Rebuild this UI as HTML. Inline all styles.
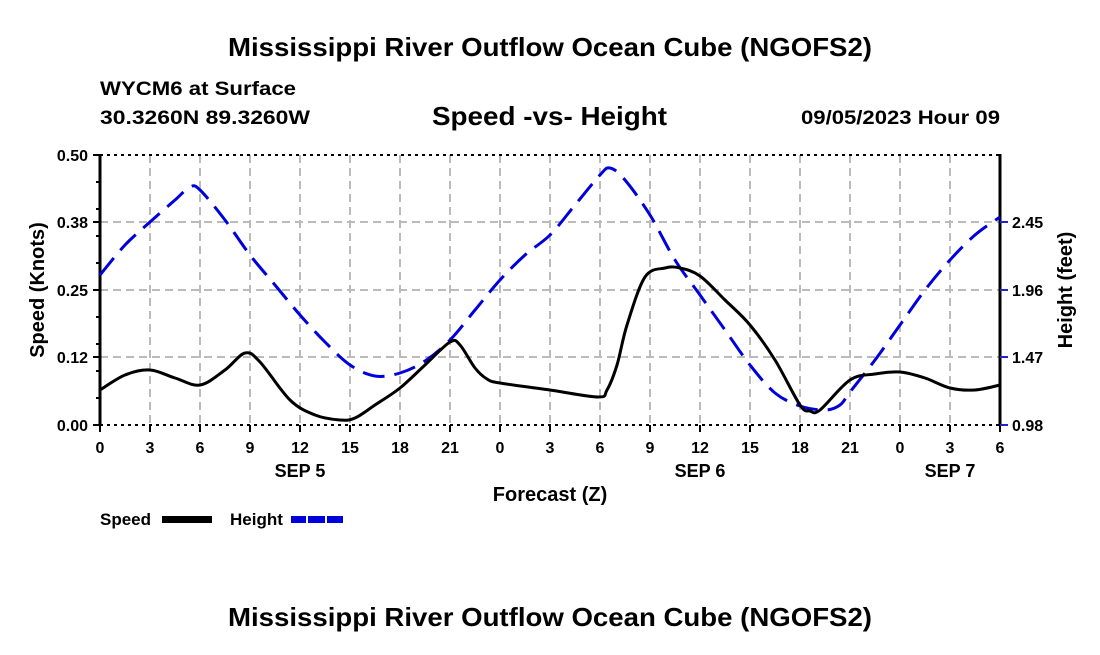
<!DOCTYPE html>
<html><head><style>
body{margin:0;background:#fff;width:1100px;height:650px;overflow:hidden}
text{font-family:"Liberation Sans",sans-serif;font-weight:bold;fill:#000}
</style></head><body>
<svg width="1100" height="650" viewBox="0 0 1100 650" xmlns="http://www.w3.org/2000/svg">
<text x="228" y="56" font-size="26" textLength="644" lengthAdjust="spacingAndGlyphs">Mississippi River Outflow Ocean Cube (NGOFS2)</text>
<text x="100" y="95" font-size="19" textLength="196" lengthAdjust="spacingAndGlyphs">WYCM6 at Surface</text>
<text x="100" y="124" font-size="19" textLength="210" lengthAdjust="spacingAndGlyphs">30.3260N  89.3260W</text>
<text x="432" y="125" font-size="26" textLength="235" lengthAdjust="spacingAndGlyphs">Speed -vs- Height</text>
<text x="801" y="124" font-size="19" textLength="199" lengthAdjust="spacingAndGlyphs">09/05/2023 Hour 09</text>
<g stroke="#bbb" stroke-width="2" stroke-dasharray="8,5">
<path d="M150 155V425M200 155V425M250 155V425M300 155V425M350 155V425M400 155V425M450 155V425M500 155V425M550 155V425M600 155V425M650 155V425M700 155V425M750 155V425M800 155V425M850 155V425M900 155V425M950 155V425"/>
<path d="M100 357H1000M100 290H1000M100 222H1000"/>
</g>
<g stroke="#000" stroke-width="2" stroke-dasharray="3,4"><path d="M100 155H1000M100 425H1000"/></g>
<path d="M100 154V426M1000 154V426" stroke="#000" stroke-width="3"/>
<g stroke="#000" stroke-width="2"><path d="M93 155H100M93 222H100M93 290H100M93 357H100M93 425H100M96 182H100M96 209H100M96 236H100M96 263H100M96 317H100M96 344H100M96 371H100M96 398H100"/>
<path d="M100 425V432M150 425V432M200 425V432M250 425V432M300 425V432M350 425V432M400 425V432M450 425V432M500 425V432M550 425V432M600 425V432M650 425V432M700 425V432M750 425V432M800 425V432M850 425V432M900 425V432M950 425V432M1000 425V432"/></g>
<g stroke="#22c" stroke-width="2"><path d="M1000 222H1008M1000 290H1008M1000 357H1008M1000 425H1008"/></g>
<g font-size="16" text-anchor="end"><text x="88" y="161">0.50</text><text x="88" y="228">0.38</text><text x="88" y="296">0.25</text><text x="88" y="363">0.12</text><text x="88" y="431">0.00</text></g>
<g font-size="16"><text x="1012" y="228">2.45</text><text x="1012" y="296">1.96</text><text x="1012" y="363">1.47</text><text x="1012" y="431">0.98</text></g>
<g font-size="16" text-anchor="middle"><text x="100" y="453">0</text><text x="150" y="453">3</text><text x="200" y="453">6</text><text x="250" y="453">9</text><text x="300" y="453">12</text><text x="350" y="453">15</text><text x="400" y="453">18</text><text x="450" y="453">21</text><text x="500" y="453">0</text><text x="550" y="453">3</text><text x="600" y="453">6</text><text x="650" y="453">9</text><text x="700" y="453">12</text><text x="750" y="453">15</text><text x="800" y="453">18</text><text x="850" y="453">21</text><text x="900" y="453">0</text><text x="950" y="453">3</text><text x="1000" y="453">6</text>
<text x="300" y="477" font-size="18">SEP 5</text><text x="700" y="477" font-size="18">SEP 6</text><text x="950" y="477" font-size="18">SEP 7</text>
<text x="550" y="501" font-size="20">Forecast (Z)</text></g>
<text transform="translate(44,290) rotate(-90)" font-size="20" text-anchor="middle">Speed (Knots)</text>
<text transform="translate(1072,290) rotate(-90)" font-size="20" text-anchor="middle">Height (feet)</text>
<path id="h" fill="none" stroke="#0000dd" stroke-width="3" stroke-dasharray="22,10" stroke-linejoin="round"/>
<path id="s" fill="none" stroke="#000" stroke-width="3" stroke-linejoin="round"/>
<text x="100" y="525" font-size="17">Speed</text><rect x="162" y="516" width="50" height="7" fill="#000"/>
<text x="230" y="525" font-size="17">Height</text><rect x="291" y="516" width="52" height="7" fill="#0000dd"/>
<path d="M307 516v7M326 516v7" stroke="#fff" stroke-width="2"/>
<text x="228" y="626" font-size="26" textLength="644" lengthAdjust="spacingAndGlyphs">Mississippi River Outflow Ocean Cube (NGOFS2)</text>
</svg>
<script>
function cr(p){var d="M"+p[0]+" "+p[1];for(var i=0;i<p.length-2;i+=2){var x0=p[Math.max(i-2,0)],y0=p[Math.max(i-1,1)],x1=p[i],y1=p[i+1],x2=p[i+2],y2=p[i+3],x3=p[Math.min(i+4,p.length-2)],y3=p[Math.min(i+5,p.length-1)];d+=" C"+(x1+(x2-x0)/6)+" "+(y1+(y2-y0)/6)+" "+(x2-(x3-x1)/6)+" "+(y2-(y3-y1)/6)+" "+x2+" "+y2;}return d;}
var H=[100,275,125,245,150,222,175,200,190,187,200,190,225,220,250,255,275,285,300,315,325,342,350,365,375,376,400,373,425,361,450,340,475,310,500,280,525,255,550,235,575,205,600,175,610,168,625,180,650,215,675,260,700,295,725,330,750,365,775,393,800,406,825,410,840,405,850,392,875,360,900,325,925,290,950,260,975,235,1000,217];
var S=[100,390,125,375,150,370,175,378,200,385,225,370,245,353,260,362,290,400,315,415,340,420,355,418,375,405,400,388,425,365,450,342,460,345,475,368,487,379,500,383,550,390,598,397,607,390,617,365,627,325,645,277,665,268,680,268,700,276,725,300,750,325,775,360,800,405,810,411,820,410,850,380,875,374,900,372,925,378,950,388,975,390,1000,385];
document.getElementById("h").setAttribute("d",cr(H));
document.getElementById("s").setAttribute("d",cr(S));
</script>
</body></html>
